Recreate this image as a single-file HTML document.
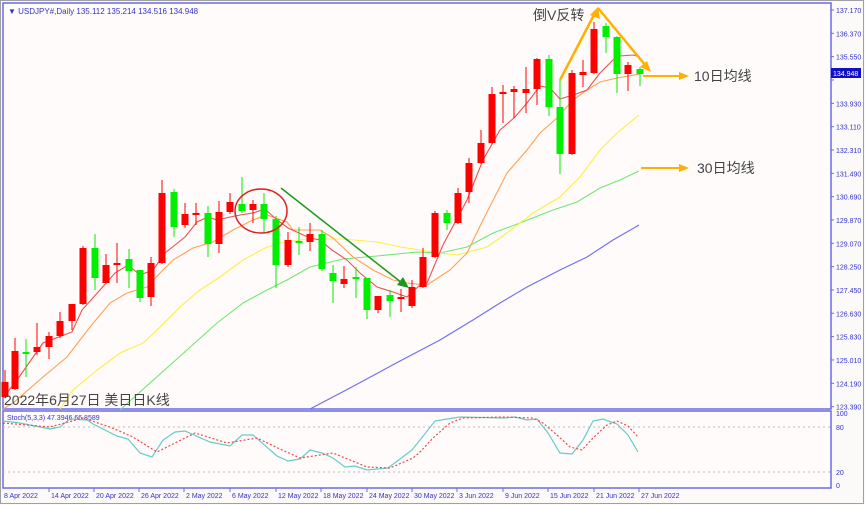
<!DOCTYPE html>
<html><head><meta charset="utf-8"><style>
html,body{margin:0;padding:0;background:#fff}
svg{display:block}
text{font-family:"Liberation Sans","Noto Sans CJK SC",sans-serif}
</style></head><body>
<svg width="865" height="505" viewBox="0 0 865 505" xmlns="http://www.w3.org/2000/svg">
<rect x="0" y="0" width="865" height="505" fill="#fcf9f9"/>
<rect x="0.5" y="0.5" width="863" height="503" fill="none" stroke="#a0a0a0"/>
<rect x="3" y="3" width="828" height="406" fill="#fffbfb" stroke="#6b6be6" stroke-width="1.5"/>
<rect x="3" y="411" width="828" height="77" fill="#fffbfb" stroke="#6b6be6" stroke-width="1.5"/>
<line x1="3" y1="427" x2="831" y2="427" stroke="#bbb" stroke-dasharray="2,3"/>
<line x1="3" y1="472" x2="831" y2="472" stroke="#bbb" stroke-dasharray="2,3"/>
<text x="8" y="14" font-size="8" fill="#3333cc">▼ USDJPY#,Daily  135.112 135.214 134.516 134.948</text>
<text x="7" y="420" font-size="7" fill="#3333cc">Stoch(5,3,3) 47.3946 66.8589</text>

<g font-size="7" fill="#3333cc" id="pax"></g>
<g font-size="7" fill="#3333cc">
<text x="836" y="416">100</text><text x="836" y="430">80</text><text x="836" y="475">20</text><text x="836" y="488">0</text>
</g>
<g font-size="7" fill="#3333cc">
<text x="4" y="498">8 Apr 2022</text><text x="51" y="498">14 Apr 2022</text><text x="96" y="498">20 Apr 2022</text><text x="141" y="498">26 Apr 2022</text><text x="186" y="498">2 May 2022</text><text x="232" y="498">6 May 2022</text><text x="278" y="498">12 May 2022</text><text x="323" y="498">18 May 2022</text><text x="369" y="498">24 May 2022</text><text x="414" y="498">30 May 2022</text><text x="459" y="498">3 Jun 2022</text><text x="505" y="498">9 Jun 2022</text><text x="550" y="498">15 Jun 2022</text><text x="596" y="498">21 Jun 2022</text><text x="641" y="498">27 Jun 2022</text>
</g>
<g stroke="#6b6be6">
<line x1="49" y1="488" x2="49" y2="492"/><line x1="94" y1="488" x2="94" y2="492"/><line x1="139" y1="488" x2="139" y2="492"/><line x1="184" y1="488" x2="184" y2="492"/><line x1="230" y1="488" x2="230" y2="492"/><line x1="276" y1="488" x2="276" y2="492"/><line x1="321" y1="488" x2="321" y2="492"/><line x1="367" y1="488" x2="367" y2="492"/><line x1="412" y1="488" x2="412" y2="492"/><line x1="457" y1="488" x2="457" y2="492"/><line x1="503" y1="488" x2="503" y2="492"/><line x1="548" y1="488" x2="548" y2="492"/><line x1="594" y1="488" x2="594" y2="492"/><line x1="639" y1="488" x2="639" y2="492"/>
</g>

<g fill="none" stroke-width="1.1">
<polyline stroke="#6c6cf0" points="310,409 350,388 400,361 440,340 473,320 500,303 527,287 560,270 587,257 613,240 639,225"/>
<polyline stroke="#6fe86f" points="120,410 150,383 187,350 217,323 243,303 267,290 287,280 310,267 343,259 377,256 417,252 440,253 467,247 493,233 520,223 553,210 577,202 600,188 620,180 639,171"/>
<polyline stroke="#ffee44" points="60,409 73,390 97,370 120,353 143,343 157,330 180,307 200,290 220,277 243,260 267,247 280,243 307,239 343,239 377,242 400,247 420,250 440,253 457,255 487,247 507,233 533,213 560,197 580,177 600,150 617,133 639,115"/>
<polyline stroke="#ffa050" points="3,409 13,403 43,377 67,357 90,327 110,303 127,293 147,287 160,273 173,260 193,248 213,242 233,230 253,220 267,215 287,222 293,230 320,230 333,238 353,257 373,270 393,280 407,283 427,285 450,270 467,253 483,220 507,173 527,150 540,133 557,118 573,100 587,90 600,82 617,78 640,74"/>
<polyline stroke="#f05050" points="3,398 17,380 43,343 72,332 82,310 100,290 115,273 128,265 140,275 153,270 165,253 185,237 197,222 208,217 217,220 230,217 240,215 253,213 265,209 277,220 288,228 310,238 320,240 332,250 347,260 360,273 377,287 393,292 407,297 420,285 427,283 443,245 467,200 483,160 500,130 515,117 527,103 540,86 550,88 560,99 573,95 587,90 600,73 613,60 620,56 633,55 640,57"/>
</g>

<g id="candles"></g>

<ellipse cx="261" cy="211" rx="26" ry="22" fill="none" stroke="#e02020" stroke-width="1.5"/>
<line x1="281" y1="188" x2="402" y2="283" stroke="#1a9a1a" stroke-width="1.5"/>
<polygon points="409,288 397,285 403,277" fill="#1a9a1a"/>
<g stroke="#ffb000" stroke-width="2.5" fill="#ffb000">
<line x1="560" y1="80" x2="595" y2="13"/><polygon points="598,7 600,19 590,15" stroke="none"/>
<line x1="598" y1="8" x2="646" y2="66"/><polygon points="651,72 640,67 647,61" stroke="none"/>
<line x1="643" y1="76" x2="680" y2="76" stroke-width="2"/><polygon points="689,76 679,72 679,80" stroke="none"/>
<line x1="641" y1="168" x2="680" y2="168" stroke-width="2"/><polygon points="689,168 679,164 679,172" stroke="none"/>
</g>
<g font-size="14" fill="#444">
<text x="533" y="20">倒V反转</text>
<text x="694" y="81">10日均线</text>
<text x="697" y="173">30日均线</text>
<text x="4" y="405">2022年6月27日 美日日K线</text>
</g>

<polyline fill="none" stroke="#66ccc8" stroke-width="1.2" points="3,421 20,423 50,429 60,427 70,419 87,420 93,424 117,436 128,439 140,453 152,457 163,440 175,432 185,431 210,442 230,446 242,435 253,435 277,456 288,461 300,459 310,450 322,453 333,458 345,467 355,466 367,470 388,468 412,450 420,440 435,421 447,419 460,417 503,418 515,417 527,420 537,419 548,433 560,453 572,454 583,440 593,421 603,419 617,424 628,435 638,452"/>
<polyline fill="none" stroke="#f04848" stroke-width="1.2" stroke-dasharray="2,2" points="3,423 50,427 83,418 110,427 133,437 157,452 177,442 195,433 227,443 257,438 280,449 300,458 320,455 333,453 350,460 367,467 390,468 413,458 420,452 433,438 450,423 463,418 503,417 533,418 543,423 557,435 570,447 582,450 593,438 607,425 617,421 628,426 638,437"/>

<rect x="831" y="68" width="30" height="10" fill="#1010c8"/>
<text x="833" y="76" font-size="7" fill="#fff">134.948</text>
</svg>
<script>
var ns="http://www.w3.org/2000/svg";
var ax=document.getElementById("pax");
var labs=["137.170","136.370","135.550","134.750","133.930","133.110","132.310","131.490","130.690","129.870","129.070","128.250","127.450","126.630","125.830","125.010","124.190","123.390"];
for(var i=0;i<labs.length;i++){var y=10+23.33*i;
if(i!=3){var t=document.createElementNS(ns,"text");t.setAttribute("x",836);t.setAttribute("y",y+3);t.textContent=labs[i];ax.appendChild(t);}
var l=document.createElementNS(ns,"line");l.setAttribute("x1",831);l.setAttribute("x2",834);l.setAttribute("y1",y);l.setAttribute("y2",y);l.setAttribute("stroke","#6b6be6");ax.appendChild(l);}
var C=[[5,382,397,370,398,'r'],[15,351,389,338,390,'r'],[26,352,352,339,377,'g'],[37,347,352,323,355,'r'],[49,336,347,332,359,'r'],[60,321,336,312,338,'r'],[72,304,321,304,330,'r'],[83,248,304,246,305,'r'],[95,248,278,234,290,'g'],[106,265,283,254,284,'r'],[117,263,265,243,283,'r'],[129,259,271,249,288,'g'],[140,270,298,270,302,'g'],[151,263,297,257,306,'r'],[162,193,263,180,264,'r'],[174,192,227,189,237,'g'],[185,214,225,203,228,'r'],[196,213,214,203,225,'r'],[208,213,244,206,257,'g'],[219,212,244,201,253,'r'],[230,202,212,193,214,'r'],[242,204,211,177,213,'g'],[253,204,210,200,223,'r'],[264,204,219,193,232,'g'],[276,219,265,216,288,'g'],[288,240,265,232,267,'r'],[299,241,241,227,255,'g'],[310,234,242,223,251,'r'],[322,234,269,230,271,'g'],[333,273,281,265,303,'g'],[344,279,284,266,288,'r'],[356,277,277,267,298,'g'],[367,278,310,278,319,'g'],[378,296,310,296,313,'r'],[390,295,301,290,317,'g'],[401,297,297,289,312,'r'],[412,287,306,280,308,'r'],[423,257,287,248,288,'r'],[435,213,257,211,258,'r'],[447,213,223,210,230,'g'],[458,193,223,188,224,'r'],[469,163,192,158,203,'r'],[481,143,163,130,164,'r'],[492,94,143,87,144,'r'],[503,92,94,85,123,'r'],[514,89,92,86,118,'r'],[526,89,93,67,113,'r'],[537,59,89,58,105,'r'],[549,59,107,55,116,'g'],[560,107,154,80,174,'g'],[572,73,154,70,155,'r'],[583,72,75,60,87,'r'],[594,29,73,22,74,'r'],[606,26,37,23,53,'g'],[617,37,74,36,93,'g'],[628,65,74,62,91,'r'],[640,69,74,67,86,'g']];
var g=document.getElementById("candles");
C.forEach(function(c){var col=c[5]=='r'?'#ff0000':'#00ee00';
var l=document.createElementNS(ns,"line");l.setAttribute("x1",c[0]);l.setAttribute("x2",c[0]);l.setAttribute("y1",c[3]);l.setAttribute("y2",c[4]);l.setAttribute("stroke",col);g.appendChild(l);
var r=document.createElementNS(ns,"rect");var h=Math.max(c[2]-c[1],2);r.setAttribute("x",c[0]-3.5);r.setAttribute("y",c[1]);r.setAttribute("width",7);r.setAttribute("height",h);r.setAttribute("fill",col);g.appendChild(r);});
</script>
</body></html>
